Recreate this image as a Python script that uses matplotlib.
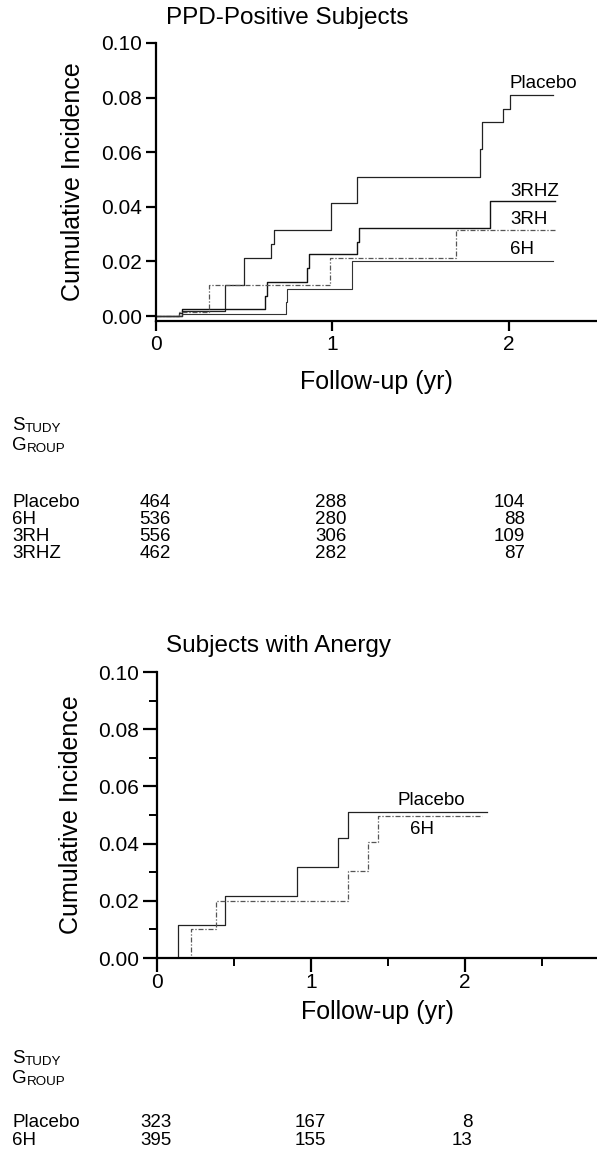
"""Cumulative incidence of tuberculosis by study group, two panels
(PPD-positive subjects and subjects with anergy), with numbers at risk."""

import matplotlib
matplotlib.use("Agg")  # no display in the sandbox
import matplotlib.pyplot as plt
from matplotlib.ticker import MultipleLocator, FormatStrFormatter
from matplotlib.transforms import blended_transform_factory

plt.rcParams["font.family"] = ["Liberation Sans", "DejaVu Sans"]

# -----------------------------------------------------------------
# Data (years, cumulative incidence)
# -----------------------------------------------------------------
# PPD-positive subjects
ppd_placebo_t = [0, 0.13, 0.145, 0.391, 0.500, 0.650, 0.670, 0.991, 1.137,
                 1.838, 1.849, 1.968, 2.009, 2.25]
ppd_placebo_ci = [0, 0.0012, 0.0020, 0.0114, 0.0214, 0.0263, 0.0314, 0.0413,
                  0.0511, 0.0611, 0.0710, 0.0759, 0.0809, 0.0809]

ppd_3rhz_t = [0, 0.145, 0.618, 0.631, 0.857, 0.870, 1.141, 1.152, 1.892, 2.26]
ppd_3rhz_ci = [0, 0.0025, 0.0073, 0.0123, 0.0175, 0.0226, 0.0272, 0.0321,
               0.0422, 0.0422]

ppd_3rh_t = [0, 0.13, 0.302, 0.986, 1.703, 2.26]
ppd_3rh_ci = [0, 0.0015, 0.0114, 0.0214, 0.0314, 0.0314]

ppd_6h_t = [0, 0.145, 0.735, 0.740, 1.112, 2.25]
ppd_6h_ci = [0, 0.0008, 0.0053, 0.0101, 0.0201, 0.0201]

# Subjects with anergy
anergy_placebo_t = [0, 0.135, 0.443, 0.906, 1.177, 1.239, 2.14]
anergy_placebo_ci = [0, 0.0115, 0.0218, 0.0319, 0.0419, 0.0512, 0.0512]

anergy_6h_t = [0, 0.224, 0.384, 1.239, 1.370, 1.433, 2.11]
anergy_6h_ci = [0, 0.0101, 0.0201, 0.0304, 0.0406, 0.0498, 0.0498]

# Numbers at risk at 0, 1 and 2 years
ppd_groups = ["Placebo", "6H", "3RH", "3RHZ"]
ppd_at_risk = [[464, 288, 104],
               [536, 280, 88],
               [556, 306, 109],
               [462, 282, 87]]

anergy_groups = ["Placebo", "6H"]
anergy_at_risk = [[323, 167, 8],
                  [395, 155, 13]]

# -----------------------------------------------------------------
# Figure layout (pixel based, 597 x 1158)
# -----------------------------------------------------------------
W, H = 597, 1158
fig = plt.figure(figsize=(W / 100, H / 100), dpi=100)


def fy(y_px):
    """Pixel row from the top -> figure fraction."""
    return 1 - y_px / H


def style_axes(ax, major_len, minor_len, xpad=3):
    for side in ("top", "right"):
        ax.spines[side].set_visible(False)
    for side in ("left", "bottom"):
        ax.spines[side].set_linewidth(1.6)
    ax.tick_params(which="major", direction="out", length=major_len,
                   width=1.6, labelsize=15, pad=3)
    ax.tick_params(axis="x", which="major", pad=xpad)
    ax.tick_params(which="minor", direction="out", length=minor_len,
                   width=1.4)
    ax.yaxis.set_major_locator(MultipleLocator(0.02))
    ax.yaxis.set_major_formatter(FormatStrFormatter("%.2f"))
    ax.xaxis.set_major_locator(MultipleLocator(1))
    ax.xaxis.set_major_formatter(FormatStrFormatter("%d"))


def small_caps(ax, x_px, y_px, first, rest):
    # big initial, the rest in smaller capitals right after it
    s = fig.text(x_px / W, fy(y_px), first, fontsize=13.5, va="baseline")
    ax.annotate(rest, xy=(1, 0), xycoords=s, xytext=(0, -0.8),
                textcoords="offset points", fontsize=9.6, va="bottom",
                annotation_clip=False)


def at_risk_table(ax, groups, counts, header_y, row_y, row_step, col_x):
    small_caps(ax, 12, header_y, "S", "TUDY")
    small_caps(ax, 12, header_y + 20, "G", "ROUP")
    trans = blended_transform_factory(ax.transData, fig.transFigure)
    for i, (name, row) in enumerate(zip(groups, counts)):
        y = fy(row_y + i * row_step)
        fig.text(12 / W, y, name, fontsize=13.5, va="baseline")
        for x, n in zip(col_x, row):
            ax.text(x, y, str(n), transform=trans, fontsize=13.5,
                    ha="right", va="baseline", clip_on=False)


# -----------------------------------------------------------------
# Top panel: PPD-positive subjects
# -----------------------------------------------------------------
ax1 = fig.add_axes([156 / W, fy(321), 441 / W, 278 / H])
style_axes(ax1, major_len=7, minor_len=0)
ax1.set_xlim(0, 2.5)
ax1.set_ylim(-0.0018, 0.10)

ax1.step(ppd_placebo_t, ppd_placebo_ci, where="post", color="#222222", lw=0.9)
ax1.step(ppd_3rhz_t, ppd_3rhz_ci, where="post", color="#111111", lw=1.0)
ax1.step(ppd_3rh_t, ppd_3rh_ci, where="post", color="#555555", lw=0.9,
         linestyle=(0, (4, 1.5, 1, 1.5)))
ax1.step(ppd_6h_t, ppd_6h_ci, where="post", color="#333333", lw=0.8)

ax1.text(2.006, 0.085, "Placebo", fontsize=13.5, va="center")
ax1.text(2.006, 0.0455, "3RHZ", fontsize=13.5, va="center")
ax1.text(2.006, 0.0355, "3RH", fontsize=13.5, va="center")
ax1.text(2.006, 0.0245, "6H", fontsize=13.5, va="center")

fig.text(166 / W, fy(18), "PPD-Positive Subjects", fontsize=17.5, va="center")
fig.text(73 / W, fy(182), "Cumulative Incidence", fontsize=18,
         rotation=90, ha="center", va="center")
fig.text(376 / W, fy(382), "Follow-up (yr)", fontsize=18,
         ha="center", va="center")

at_risk_table(ax1, ppd_groups, ppd_at_risk, header_y=430, row_y=507,
              row_step=17, col_x=[0.085, 1.082, 2.09])

# -----------------------------------------------------------------
# Bottom panel: subjects with anergy
# -----------------------------------------------------------------
ax2 = fig.add_axes([157 / W, fy(958), 440 / W, 286 / H])
style_axes(ax2, major_len=10, minor_len=5.5, xpad=1)
ax2.yaxis.set_minor_locator(MultipleLocator(0.01))
ax2.xaxis.set_minor_locator(MultipleLocator(0.5))
ax2.set_xlim(0, 2.857)
ax2.set_ylim(0, 0.10)

ax2.step(anergy_placebo_t, anergy_placebo_ci, where="post",
         color="#222222", lw=0.9)
ax2.step(anergy_6h_t, anergy_6h_ci, where="post", color="#555555", lw=0.9,
         linestyle=(0, (4, 1.5, 1, 1.5)))

ax2.text(1.78, 0.0549, "Placebo", fontsize=13.5, ha="center", va="center")
ax2.text(1.72, 0.0448, "6H", fontsize=13.5, ha="center", va="center")

fig.text(166 / W, fy(646), "Subjects with Anergy", fontsize=17.5, va="center")
fig.text(71 / W, fy(815), "Cumulative Incidence", fontsize=18,
         rotation=90, ha="center", va="center")
fig.text(377 / W, fy(1012), "Follow-up (yr)", fontsize=18,
         ha="center", va="center")

at_risk_table(ax2, anergy_groups, anergy_at_risk, header_y=1063, row_y=1127,
              row_step=18, col_x=[0.097, 1.097, 2.05])

fig.savefig("out.png", dpi=100)
